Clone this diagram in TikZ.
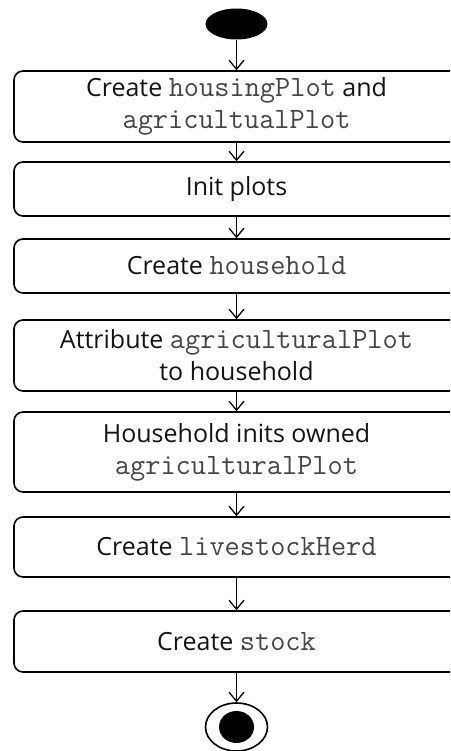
\documentclass[tikz,border=0pt]{standalone}
\usepackage{fontspec}
\setmainfont{Open Sans}
\usetikzlibrary{arrows.meta,shapes.geometric}
\definecolor{codegray}{rgb}{0.27, 0.27, 0.27}
\definecolor{inkblack}{rgb}{0.08, 0.08, 0.08}
\newcommand{\code}[1]{{\fontsize{29.5pt}{32pt}\ttfamily\color{codegray}#1}}

\begin{document}
\begin{tikzpicture}[x=1pt, y=-1pt,
    action/.style={draw, line width=1.6pt, rounded corners=9pt, minimum width=445pt, inner sep=0pt, align=center, text=inkblack, font=\fontsize{25pt}{32pt}\selectfont},
    flow/.style={-{Straight Barb[length=9pt,width=15pt]}, line width=1.3pt}]
      \useasboundingbox (0,0) rectangle (450,751);
      \clip (0,0) rectangle (450,751);

      \node[ellipse, fill, minimum width=62pt, minimum height=31pt, inner sep=0pt] (start) at (236.5, 24) {};
      \node[action, minimum height=71pt] (box1) at (236.5, 106.5) {Create \code{housingPlot} and\\ \code{agricultualPlot}};
      \node[action, minimum height=54pt] (box2) at (236.5, 189) {Init plots};
      \node[action, minimum height=54pt] (box3) at (236.5, 266) {Create \code{household}};
      \node[action, minimum height=71pt] (box4) at (236.5, 355.5) {Attribute \code{agriculturalPlot}\\ to household};
      \node[action, minimum height=80pt] (box5) at (236.5, 452) {Household inits owned\\ \code{agriculturalPlot}};
      \node[action, minimum height=60pt] (box6) at (236.5, 547) {Create \code{livestockHerd}};
      \node[action, minimum height=61pt] (box7) at (236.5, 641.5) {Create \code{stock}};
      \node[ellipse, draw, line width=1.6pt, minimum width=62pt, minimum height=48pt, inner sep=0pt] (stop) at (236.5, 727) {};
      \node[ellipse, fill, minimum width=35pt, minimum height=32pt, inner sep=0pt] (stopdot) at (236.5, 727) {};

      \foreach \a/\b in {start/box1, box1/box2, box2/box3, box3/box4, box4/box5, box5/box6, box6/box7, box7/stop} {
          \draw[flow] (\a) -- (\b);
      }
    \end{tikzpicture}
\end{document}
